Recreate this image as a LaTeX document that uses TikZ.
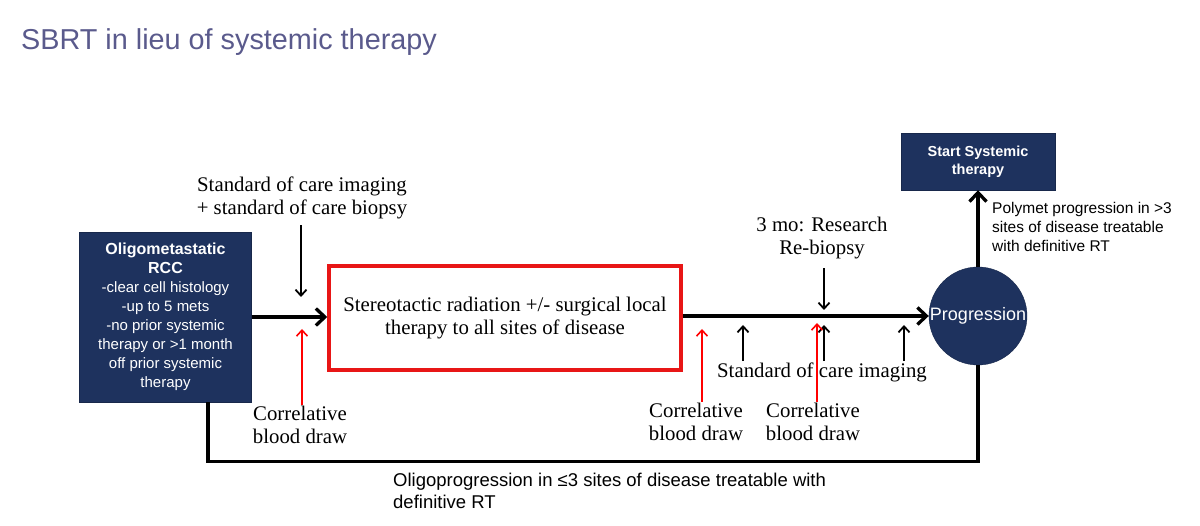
\documentclass[tikz,border=0pt]{standalone}
\usepackage{fontspec}
\setmainfont{Liberation Serif}
\setsansfont{Liberation Sans}
\usetikzlibrary{arrows.meta, positioning}
\definecolor{navy}{RGB}{30,50,94}
\definecolor{titlecol}{RGB}{90,90,140}
\definecolor{boxred}{RGB}{232,22,22}
\newcommand{\boxhead}[1]{{\bfseries\fontsize{16}{19}\selectfont #1}}
\tikzset{
  navybox/.style={draw=navy!80!black, fill=navy, text=white, align=center, inner sep=0pt,
    font=\sffamily\fontsize{15}{19}\selectfont},
  flow/.style={line width=3.3pt, -{Straight Barb[length=9pt,width=17pt]}},
  loopline/.style={line width=3.3pt},
  note/.style={line width=1.8pt, -{Straight Barb[length=6pt,width=11pt]}},
  bloodnote/.style={note, draw=red, line width=1.6pt},
  serif/.style={font=\fontsize{20.8}{23}\selectfont, align=center, inner sep=1pt},
  sanslabel/.style={font=\sffamily\fontsize{15.5}{19}\selectfont, align=left, inner sep=0pt}
}

\begin{document}
\begin{tikzpicture}[x=1pt, y=-1pt]
  \useasboundingbox (0,0) rectangle (1200,526);
  % title
  \node[anchor=base west, inner sep=0pt, text=titlecol, font=\sffamily\fontsize{28.8}{34}\selectfont] (title) at (21,50) {SBRT in lieu of systemic therapy};
  % main boxes
  \node[navybox, minimum width=172pt, minimum height=170pt] (oligo) at (165.5,317) {\boxhead{Oligometastatic}\\\boxhead{RCC}\\-clear cell histology\\-up to 5 mets\\-no prior systemic\\therapy or >1 month\\off prior systemic\\therapy};
  \node[serif, draw=boxred, line width=3.5pt, minimum width=352pt, minimum height=104pt] (sbrt) at (505,318) {Stereotactic radiation +/- surgical local\\therapy to all sites of disease};
  \node[circle, fill=navy, draw=navy!80!black, minimum size=98pt, inner sep=0pt, text=white, font=\sffamily\fontsize{18}{20}\selectfont] (prog) at (978,316) {\makebox[0pt]{Progression}};
  \node[navybox, font=\sffamily\bfseries\fontsize{14.5}{18}\selectfont, minimum width=154pt, minimum height=57pt] (start) at (978,161.5) {Start Systemic\\therapy};
  % connectors
  \draw[flow] (oligo.east) -- (oligo.east -| sbrt.west);
  \draw[flow] (sbrt.east |- prog.west) -- (prog.west);
  \draw[flow] (prog.north) -- (start.south);
  \draw[loopline] ([xshift=42.5pt]oligo.south) -- ++(0,59) -| (prog.south);
  \node[sanslabel, anchor=north west] (polymet) at (992,202) {Polymet progression in >3\\sites of disease treatable\\with definitive RT};
  \node[sanslabel, font=\sffamily\fontsize{18.5}{22}\selectfont, anchor=north west] (oligoprog) at (393,473) {Oligoprogression in ≤3 sites of disease treatable with\\definitive RT};
  % imaging and biopsy
  \node[serif] (soc) at (302,198) {Standard of care imaging\\+ standard of care biopsy};
  \coordinate (socTip) at (301,297);
  \draw[note, shorten <=5pt] (soc.south -| socTip) -- (socTip);
  \node[serif] (remo) at (822,238) {3 mo: Research\\Re-biopsy};
  \coordinate (remoTip) at (824,310);
  \draw[note, shorten <=8pt] (remo.south -| remoTip) -- (remoTip);
  \node[serif] (soci) at (822,372) {Standard of care imaging};
  \foreach \x [count=\i] in {743,824,904} {
    \coordinate (img\i) at (\x,325);
    \draw[note] (soci.north -| img\i) -- (img\i);
  }
  % blood draws
  \node[serif] (cbd1) at (300,425) {Correlative\\blood draw};
  \node[serif] (cbd2) at (696,422) {Correlative\\blood draw};
  \node[serif] (cbd3) at (813,422) {Correlative\\blood draw};
  \coordinate (rb1) at (302,329);
  \coordinate (rb2) at (702,329);
  \coordinate (rb3) at (817,323);
  \foreach \i in {1,2,3}
    \draw[bloodnote] (cbd\i.north -| rb\i) -- (rb\i);
\end{tikzpicture}
\end{document}
